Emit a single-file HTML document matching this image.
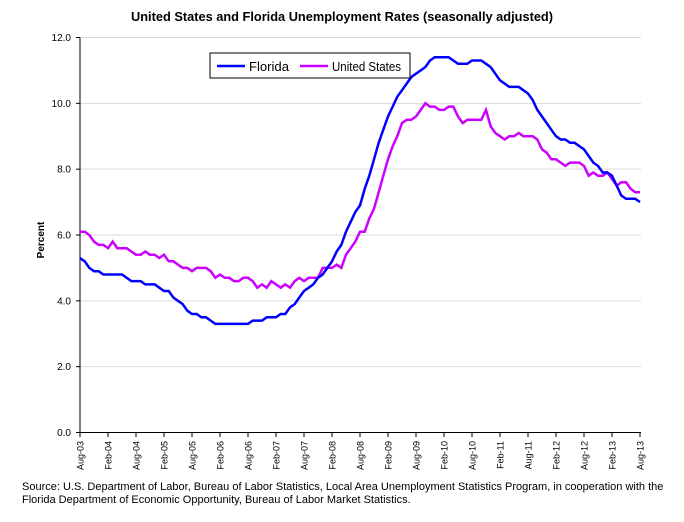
<!DOCTYPE html><html><head><style>body{margin:0;background:#fff}svg{font-family:"Liberation Sans",sans-serif}</style></head><body>
<svg id="s" width="684" height="517" viewBox="0 0 684 517" xmlns="http://www.w3.org/2000/svg">
<rect width="684" height="517" fill="#fff"/>
<text x="342" y="21" text-anchor="middle" font-size="12.5" font-weight="bold" textLength="422" lengthAdjust="spacingAndGlyphs">United States and Florida Unemployment Rates (seasonally adjusted)</text>
<g id="grid" stroke="#d9d9d9" stroke-width="1"></g>
<g id="lab" font-size="10" fill="#000"></g>
<line x1="80" y1="37.5" x2="80" y2="432.5" stroke="#000"/>
<line x1="80" y1="432.5" x2="641" y2="432.5" stroke="#000"/>
<text transform="translate(44,240) rotate(-90)" text-anchor="middle" font-size="10" font-weight="bold">Percent</text>
<polyline id="us" fill="none" stroke="#cc00ff" stroke-width="2.5"/>
<polyline id="fl" fill="none" stroke="#0000ff" stroke-width="2.5"/>
<rect x="210" y="53" width="200" height="25" fill="#fff" stroke="#000"/>
<line x1="217" y1="66" x2="245" y2="66" stroke="#0000ff" stroke-width="2.5"/>
<text x="249" y="71" font-size="12.5" textLength="40" lengthAdjust="spacingAndGlyphs">Florida</text>
<line x1="300" y1="66" x2="328" y2="66" stroke="#cc00ff" stroke-width="2.5"/>
<text x="332" y="71" font-size="12.5" textLength="69" lengthAdjust="spacingAndGlyphs">United States</text>
<text x="22" y="490" font-size="11">Source:  U.S. Department of Labor, Bureau of Labor Statistics, Local Area Unemployment Statistics Program, in cooperation with the</text>
<text x="22" y="503" font-size="11">Florida Department of Economic Opportunity, Bureau of Labor Market Statistics.</text>
</svg>
<script>
var NS="http://www.w3.org/2000/svg";
function Y(v){return 432.5-v*32.917}
function X(m){return 80+m*560/120}
var g=document.getElementById('grid'),lab=document.getElementById('lab');
for(var i=0;i<=6;i++){var v=i*2,y=Y(v);
 if(i>0){var l=document.createElementNS(NS,'line');l.setAttribute('x1',80);l.setAttribute('x2',641);l.setAttribute('y1',y);l.setAttribute('y2',y);g.appendChild(l);}
 var t=document.createElementNS(NS,'line');t.setAttribute('x1',76);t.setAttribute('x2',80);t.setAttribute('y1',y);t.setAttribute('y2',y);t.setAttribute('stroke','#000');lab.appendChild(t);
 var tx=document.createElementNS(NS,'text');tx.setAttribute('x',71);tx.setAttribute('y',y+3.5);tx.setAttribute('text-anchor','end');tx.textContent=v.toFixed(1);lab.appendChild(tx);}
for(var m=0;m<=120;m+=6){var x=X(m);
 var t=document.createElementNS(NS,'line');t.setAttribute('x1',x);t.setAttribute('x2',x);t.setAttribute('y1',432.5);t.setAttribute('y2',437);t.setAttribute('stroke','#000');lab.appendChild(t);
 var yr=3+Math.floor((m+7)/12);var name=(m%12==0?'Aug-':'Feb-')+(yr<10?'0':'')+yr;
 var tx=document.createElementNS(NS,'text');tx.setAttribute('transform','translate('+(x+3.5)+',441) rotate(-90)');tx.setAttribute('text-anchor','end');tx.setAttribute('font-size','9');tx.textContent=name;lab.appendChild(tx);}
function series(k){var pts=[];for(var i=0;i<k.length-1;i++){var a=k[i],b=k[i+1];for(var m=a[0];m<b[0];m++){var v=a[1]+(b[1]-a[1])*(m-a[0])/(b[0]-a[0]);v=Math.round(v*10)/10;pts.push(X(m).toFixed(1)+','+Y(v).toFixed(1));}}var e=k[k.length-1];pts.push(X(e[0]).toFixed(1)+','+Y(e[1]).toFixed(1));return pts.join(' ');}
var fl=[[0,5.3],[1,5.2],[2,5.0],[3,4.9],[4,4.9],[5,4.8],[8,4.8],[12,4.6],[14,4.5],[16,4.5],[18,4.3],[19,4.3],[20,4.1],[24,3.6],[27,3.5],[29,3.3],[36,3.3],[37,3.4],[39,3.4],[40,3.5],[42,3.5],[44,3.6],[46,3.9],[48,4.3],[50,4.5],[52,4.8],[54,5.2],[56,5.7],[58,6.4],[60,6.9],[62,7.8],[64,8.8],[66,9.6],[68,10.2],[70,10.6],[72,10.9],[74,11.1],[75,11.3],[76,11.4],[79,11.4],[81,11.2],[83,11.2],[84,11.3],[86,11.3],[88,11.1],[90,10.7],[92,10.5],[94,10.5],[96,10.3],[98,9.8],[100,9.4],[102,9.0],[103,8.9],[104,8.9],[105,8.8],[106,8.8],[108,8.6],[110,8.2],[112,7.9],[114,7.8],[116,7.2],[117,7.1],[119,7.1],[120,7.0]];
var us=[[0,6.1],[1,6.1],[2,6.0],[3,5.8],[4,5.7],[5,5.7],[6,5.6],[7,5.8],[8,5.6],[10,5.6],[12,5.4],[13,5.4],[14,5.5],[15,5.4],[17,5.3],[18,5.4],[19,5.2],[20,5.2],[22,5.0],[23,5.0],[24,4.9],[25,5.0],[27,5.0],[28,4.9],[29,4.7],[30,4.8],[31,4.7],[32,4.7],[33,4.6],[34,4.6],[35,4.7],[36,4.7],[38,4.4],[39,4.5],[40,4.4],[41,4.6],[42,4.5],[43,4.4],[44,4.5],[45,4.4],[46,4.6],[47,4.7],[48,4.6],[49,4.7],[51,4.7],[52,5.0],[54,5.0],[55,5.1],[56,5.0],[57,5.4],[58,5.6],[59,5.8],[60,6.1],[61,6.1],[62,6.5],[63,6.8],[64,7.3],[65,7.8],[66,8.3],[67,8.7],[68,9.0],[69,9.4],[70,9.5],[71,9.5],[72,9.6],[73,9.8],[74,10.0],[75,9.9],[76,9.9],[77,9.8],[78,9.8],[79,9.9],[80,9.9],[81,9.6],[82,9.4],[83,9.5],[86,9.5],[87,9.8],[88,9.3],[89,9.1],[90,9.0],[91,8.9],[92,9.0],[93,9.0],[94,9.1],[95,9.0],[97,9.0],[98,8.9],[99,8.6],[100,8.5],[101,8.3],[102,8.3],[103,8.2],[104,8.1],[105,8.2],[107,8.2],[108,8.1],[109,7.8],[110,7.9],[111,7.8],[112,7.8],[113,7.9],[114,7.7],[115,7.5],[116,7.6],[117,7.6],[118,7.4],[119,7.3],[120,7.3]];
document.getElementById('fl').setAttribute('points',series(fl));
document.getElementById('us').setAttribute('points',series(us));
</script>
</body></html>
